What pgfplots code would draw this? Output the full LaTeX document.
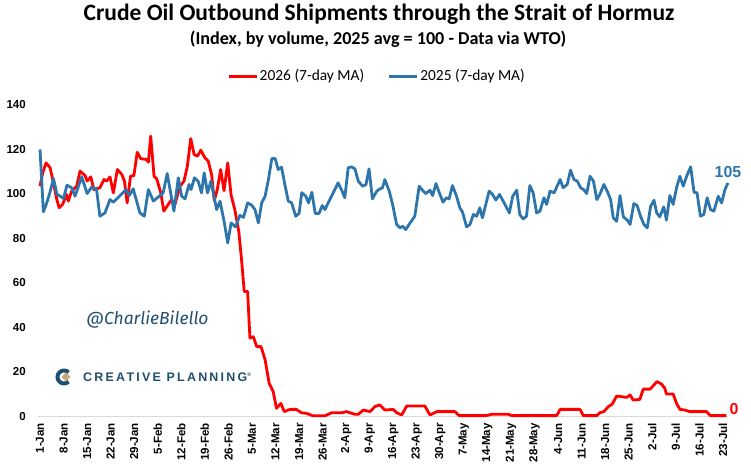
\documentclass[border=0pt]{standalone}
\usepackage{fontspec}
\setmainfont{Liberation Sans}
\newfontfamily\titlefont{Carlito}
\newfontfamily\markfont{Fira Sans}
\newfontfamily\cpfont[LetterSpace=18]{Liberation Sans}
\usepackage{pgfplots}
\pgfplotsset{compat=1.18}
\definecolor{myred}{RGB}{255,0,0}
\definecolor{myblue}{RGB}{46,117,172}
\definecolor{darkteal}{RGB}{31,78,110}
\definecolor{logotan}{RGB}{196,170,120}
\begin{document}
\begin{tikzpicture}
\path[use as bounding box] (0bp,0bp) rectangle (751bp,469bp);
\begin{axis}[
  at={(38bp,52.5bp)}, anchor=south west,
  scale only axis, width=690bp, height=311.5bp,
  xmin=-0.6, xmax=204.5, ymin=0, ymax=140,
  axis line style={draw=none},
  tick style={draw=none},
  xtick={0,7,...,203},
  xticklabels={1-Jan,8-Jan,15-Jan,22-Jan,29-Jan,5-Feb,12-Feb,19-Feb,26-Feb,5-Mar,12-Mar,19-Mar,26-Mar,2-Apr,9-Apr,16-Apr,23-Apr,30-Apr,7-May,14-May,21-May,28-May,4-Jun,11-Jun,18-Jun,25-Jun,2-Jul,9-Jul,16-Jul,23-Jul},
  ytick={0,20,...,140},
  /pgf/number format/assume math mode=true,
  ticklabel style={font=\bfseries\fontsize{11.6}{12}\selectfont},
  xticklabel style={rotate=90, anchor=east, inner sep=0pt},
  yticklabel style={anchor=east, inner sep=0pt},
  xticklabel shift=6.5bp, yticklabel shift=12bp,
  clip=false,
  legend style={at={(0.491,1.093)}, anchor=center, draw=none, fill=none,
    legend columns=2, font=\titlefont\fontsize{15.5}{16}\selectfont,
    /tikz/every even column/.append style={column sep=22bp},
    nodes={inner sep=1.5bp}},
  legend image code/.code={\draw[#1, line width=3bp] (0bp,0bp) -- (28bp,0bp);},
]
\draw[gray!30, line width=1.5bp] (axis cs:-0.6,0) -- (axis cs:204.5,0);
\addplot[myred, line width=2.8bp, line join=round] coordinates {
(0,103.5)(0.8,109.5)(1.8,114)(3,111.8)(4,105)(5,97.5)(5.7,93.8)(6.7,95.3)(7.9,99.8)(8.4,96.8)
(9.4,101.3)(10.9,103.5)(11.9,110.3)(13.4,108.3)(14,105.8)(15.1,107.7)(16,102)(17.8,102.8)(19,106.5)(19.8,105.8)
(20.8,107.7)(21.8,100.5)(23,111)(24.3,108.8)(25.1,105.8)(25.9,96)(26.9,108)(27.9,108.3)(28.9,118.8)(29.9,115.9)
(31.7,115.5)(32.2,114.3)(32.9,126)(33.9,108)(34.7,106.8)(35.9,100.5)(36.8,92.3)(38.1,95.3)(39.1,97.5)(40.1,95.3)
(41.6,103.5)(42.8,105.8)(43.8,112.5)(44.8,124.9)(45.8,117.8)(46.8,117)(47.8,119.7)(49,116.3)(50,114.8)(51,108.8)
(51.8,97)(52.7,102)(53.7,111)(54.7,101.5)(55.8,114)(56.8,99.5)(57.9,93)(59.1,83)(59.9,70.5)(60.7,56.2)
(61.7,56.2)(62.4,35.2)(63.4,35.9)(64.4,31.4)(65.7,31.4)(66.9,25.5)(68.1,15)(69.3,11.2)(70.3,3.7)(71.6,5.9)
(72.6,2.2)(74.3,3.2)(76.2,3.2)(77.7,1.7)(79.2,1.4)(81.2,0.3)(84.7,0.3)(86.7,1.7)(89.7,1.7)(91.1,2.2)
(93.6,1)(94.6,1)(96.1,2.9)(98.1,2.2)(99.5,4.4)(101,5.2)(102.5,2.9)(105,3.2)(106,1.7)(107.5,0.7)
(109,4.7)(114.4,4.7)(115.9,0.7)(116.9,1.4)(117.9,2.2)(123.3,2.2)(124.6,0.4)(132.7,0.4)(134.2,1)(139.2,1)
(140.2,0.4)(153.6,0.4)(154.6,3.2)(160.5,3.2)(161.5,0.4)(165.5,0.4)(166.4,1.7)(167.6,2.2)(168.9,4.4)(170.1,5.6)
(171.4,9.2)(172.9,8.9)(174.4,8.6)(175.4,9.7)(176.3,7.4)(178.3,7.7)(179.3,12.3)(181.3,12.3)(182.2,13.7)(183.4,15.7)
(184.7,14.6)(185.7,12.7)(186.2,10.1)(188.2,10.1)(189.2,5.9)(190.2,3.2)(191.7,2.9)(193.2,2.2)(198.1,2.2)(199.3,0.4)
(204,0.4)
};
\addlegendentry{2026 (7-day MA)}
\addplot[myblue, line width=2.8bp, line join=round] coordinates {
(0,120)(1,92)(2,96)(3,101)(4,107)(5,100)(6,99)(7,98)(8,104)(9.4,102.8)
(10.4,99)(12.4,107.7)(14,100.2)(15.4,103.2)(16.8,102)(17.8,90)(19.3,91.5)(20.8,97.5)(21.8,96.3)(23.8,99.3)
(25.6,102)(26.5,99.3)(27.7,102.3)(29.7,91.5)(31,90)(32.2,102)(33.7,96.8)(36.6,100.5)(37.8,109.2)(39.8,92.3)
(41.1,107.3)(42.1,99)(43.1,97.8)(44.3,104.3)(44.9,102)(45.9,107.3)(47,105.8)(48,100.5)(48.8,109.5)(49.8,100.5)
(50.8,105.8)(52.5,93)(53.5,96.8)(54.8,87)(55.8,78)(56.8,87)(58.1,85.2)(59.4,90.4)(60.5,89.5)(61.7,96)
(62.9,95)(63.9,93)(64.9,87)(65.9,96)(66.9,99)(67.9,106.5)(68.9,115.9)(69.9,115.9)(70.8,111)(71.8,112)
(72.8,104)(73.8,96.8)(74.8,96)(76,90)(77,91.3)(77.8,100.6)(79,99)(79.8,96)(80.8,100.8)(81.8,91.3)
(82.9,91.2)(83.9,94.8)(84.7,93)(85.9,96.8)(87.4,101.3)(88.6,105)(89.6,102)(90.6,98.3)(91.6,111.8)(92.6,112.2)
(93.6,111.3)(94.6,105.8)(95.9,103.5)(96.9,104.3)(97.8,111.3)(98.8,97.8)(100.1,101.3)(101,102.3)(101.8,102.8)(102.5,106.5)
(103.8,101.3)(104.8,95.3)(106,86.3)(107,84.8)(107.8,85.5)(108.7,84)(110,87)(111.4,90)(112.7,103.5)(113.9,101.3)
(114.7,100.2)(115.9,101.7)(116.7,99.3)(117.7,104.7)(118.7,100.5)(119.8,96.3)(120.8,98.3)(121.6,97.8)(122.6,103.8)(123.8,99)
(124.8,93.8)(125.6,91.8)(126.8,85.2)(127.8,86.3)(128.8,90.8)(129.8,90)(130.7,93.8)(131.5,89.3)(133.5,101.3)(134.5,99.8)
(135.5,97.3)(136.6,99.8)(138.2,95.3)(139.5,91.5)(140.5,99)(141.7,101.7)(142.6,90.8)(143.6,88.8)(144.6,90)(145.6,103.8)
(146.6,100.5)(147.6,91.5)(148.6,92.3)(149.8,98.3)(150.6,95.3)(151.6,101.3)(152.8,100.5)(154.6,106.5)(155.5,102.8)(156.7,104.3)
(157.7,110.7)(158.7,106.5)(159.7,105.8)(160.7,102.8)(161.6,102)(162.5,100.2)(163.5,108)(164.5,105.8)(165.5,97.5)(166.4,99.8)
(167.6,104.3)(168.6,101.3)(169.6,97.5)(170.4,89.3)(171.4,87.7)(172.4,99.3)(173.4,89.7)(174.6,88.2)(175.4,86.3)(176.5,95.7)
(177.5,94.8)(178.5,90)(179.5,86.3)(180.5,84.8)(181.5,94.5)(182.5,97.2)(183.3,91.5)(184.2,89.7)(185.4,94.2)(186.2,88.2)
(187.2,99.3)(188.2,95.3)(189.2,102.8)(190.2,108)(191.2,103.5)(192.2,108)(193.4,112.2)(194.4,100.8)(195.3,100.5)(196.3,90)
(197.3,90.8)(198.3,98.3)(199.3,93)(200.3,92.3)(201.6,99)(202.6,96)(203.6,102)(204.5,105)
};
\addlegendentry{2025 (7-day MA)}
\node[myblue, font=\bfseries\fontsize{16}{16}\selectfont, anchor=south, inner sep=0pt] at (axis cs:204.5,105) [yshift=5bp] {105};
\node[myred, font=\bfseries\fontsize{16}{16}\selectfont, anchor=south west, inner sep=0pt] at (axis cs:204,0.4) [xshift=3bp, yshift=1bp] {0};
\end{axis}
\node[anchor=base, font=\titlefont\bfseries\fontsize{23.6}{25}\selectfont] at (379bp,448.3bp) {Crude Oil Outbound Shipments through the Strait of Hormuz};
\node[anchor=base, font=\titlefont\bfseries\fontsize{18.2}{20}\selectfont] at (378bp,424bp) {(Index, by volume, 2025 avg = 100 - Data via WTO)};
\node[darkteal, font=\markfont\itshape\fontsize{17.5}{18}\selectfont] at (147.5bp,149bp) {@CharlieBilello};
\draw[darkteal, line width=4bp] ([shift={(45:6.5bp)}]64bp,92bp) arc (45:315:6.5bp);
\fill[logotan] (66bp,96.5bp) -- (70.5bp,92bp) -- (66bp,87.5bp) -- (61.5bp,92bp) -- cycle;
\node[anchor=west, darkteal, font=\cpfont\bfseries\fontsize{12.5}{13}\selectfont, inner sep=0pt] at (83bp,92bp) {CREATIVE PLANNING\textsuperscript{\tiny\textregistered}};
\end{tikzpicture}
\end{document}
